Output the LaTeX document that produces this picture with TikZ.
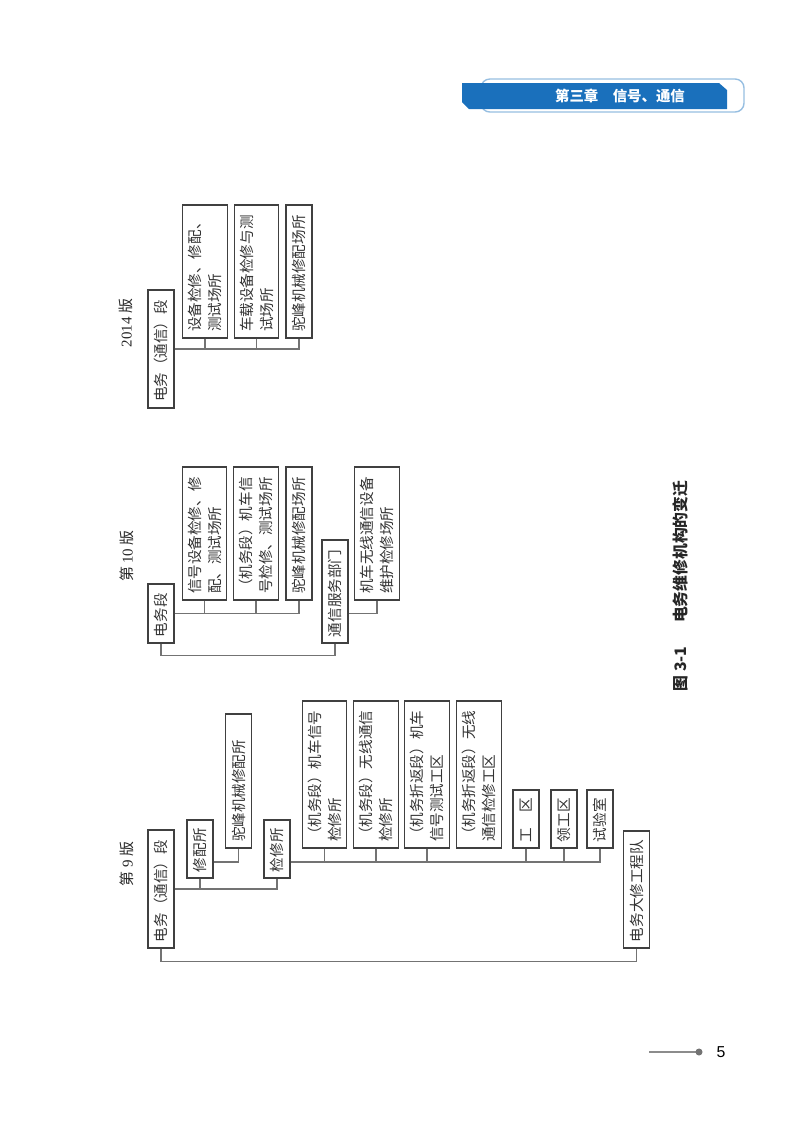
\documentclass[tikz,border=0pt]{standalone}
\usepackage{fontspec}
\setmainfont{Noto Sans CJK SC}
\newfontfamily\numfont{Liberation Serif}
\newfontfamily\pagefont{Liberation Sans}
\usetikzlibrary{calc}
\definecolor{bandblue}{RGB}{26,112,188}
\definecolor{edgeblue}{RGB}{150,190,225}

\begin{document}
\begin{tikzpicture}[x=0.02cm, y=-0.02cm,
    box/.style={draw=black!75, line width=0.8pt, rotate=90, inner xsep=0.12cm, inner ysep=0pt, align=left, text=black!80, minimum height=0.52cm, font=\fontsize{8.3}{11.3}\selectfont},
    twoline/.style={minimum height=0.89cm},
    link/.style={draw=black!55, line width=0.6pt},
    edition/.style={rotate=90, font=\fontsize{8.5}{10}\selectfont, text=black!85}
]
    \useasboundingbox (0,0) rectangle (800,1144);

    % chapter band
    \draw[edgeblue, line width=0.8pt, rounded corners=5pt] (481,79) rectangle (744,112);
    \fill[bandblue] (462,83) -- (719,83) -- (727,90) -- (727,109) -- (469,109) -- (462,102) -- cycle;
    \node[text=white, font=\bfseries\fontsize{8.2}{10}\selectfont] (chap) at (620,96) {第三章　信号、通信};

    % 2014 版
    \node[edition] (v14) at (126,323) {{\numfont 2014} 版};
    \node[box, text width=2.12cm] (d14) at (161,349) {电务（通信）段};
    \node[box, twoline, text width=2.42cm] (a14) at (205,271.5) {设备检修、修配、\\测试场所};
    \node[box, twoline, text width=2.42cm] (b14) at (256.5,271.5) {车载设备检修与测\\试场所};
    \node[box, text width=2.42cm] (c14) at (299,271.5) {驼峰机械修配场所};

    \draw[link] (d14.south) -| (c14.west);
    \draw[link] (a14.west) -- (a14.west |- d14.south);
    \draw[link] (b14.west) -- (b14.west |- d14.south);

    % 第 10 版
    \node[edition] (v10) at (127,556) {第 {\numfont 10} 版};
    \node[box, text width=0.94cm] (d10) at (161,613.5) {电务段};
    \node[box, twoline, text width=2.42cm] (a10) at (204.5,533.5) {信号设备检修、修\\配、测试场所};
    \node[box, twoline, text width=2.42cm] (b10) at (256,533.5) {（机务段）机车信\\号检修、测试场所};
    \node[box, text width=2.42cm] (m10) at (299,533.5) {驼峰机械修配场所};
    \node[box, text width=1.82cm] (t10) at (335,591.5) {通信服务部门};
    \node[box, twoline, text width=2.42cm] (r10) at (377,533.5) {机车无线通信设备\\维护检修场所};

    \draw[link] (d10.south) -| (m10.west);
    \draw[link] (a10.west) -- (a10.west |- d10.south);
    \draw[link] (b10.west) -- (b10.west |- d10.south);
    \draw[link] (t10.south |- d10.south) -| (r10.west);
    \draw[link] (d10.west) -- ++(0,12) -| (t10.west);

    % 第 9 版
    \node[edition] (v9) at (127,864) {第 {\numfont 9} 版};
    \node[box, text width=2.12cm] (p9) at (161,889) {电务（通信）段};
    \node[box, text width=0.92cm] (x9) at (200,849) {修配所};
    \node[box, text width=2.44cm] (h9) at (238.5,781) {驼峰机械修配所};
    \node[box, text width=0.92cm] (j9) at (277,849) {检修所};
    \node[box, twoline, text width=2.70cm] (k1) at (324.5,774.5) {（机务段）机车信号\\检修所};
    \node[box, twoline, text width=2.70cm] (k2) at (376,774.5) {（机务段）无线通信\\检修所};
    \node[box, twoline, text width=2.70cm] (k3) at (427,774.5) {（机务折返段）机车\\信号测试工区};
    \node[box, twoline, text width=2.70cm] (k4) at (479,774.5) {（机务折返段）无线\\通信检修工区};
    \node[box, text width=0.92cm] (g9) at (526,819) {工　区};
    \node[box, text width=0.92cm] (l9) at (564,819) {领工区};
    \node[box, text width=0.92cm] (s9) at (600,819) {试验室};
    \node[box, text width=2.10cm] (q9) at (636.5,889.5) {电务大修工程队};

    \draw[link] (p9.south) -| (j9.west);
    \draw[link] (x9.west) -- (x9.west |- p9.south);
    \draw[link] ($(x9.south)+(0,13)$) -| (h9.west);
    \draw[link] ($(j9.south)+(0,13)$) -| (s9.west);
    \foreach \n in {k1,k2,k3,g9,l9}
        \draw[link] (\n.west) -- ++(0,14);
    \draw[link] (p9.west) -- ++(0,13) -| (q9.west);

    % caption
    \node[rotate=90, text=black!85, font=\bfseries\fontsize{9}{10}\selectfont] (cap) at (680,586) {图 3-1\hspace{1.5em}电务维修机构的变迁};

    % page number
    \draw[black!45, line width=0.6pt] (649,1052) -- (699,1052);
    \fill[black!55] (699,1052) circle (2pt);
    \node[font=\pagefont\fontsize{9}{10}\selectfont] (pg) at (721,1052) {5};
\end{tikzpicture}
\end{document}
